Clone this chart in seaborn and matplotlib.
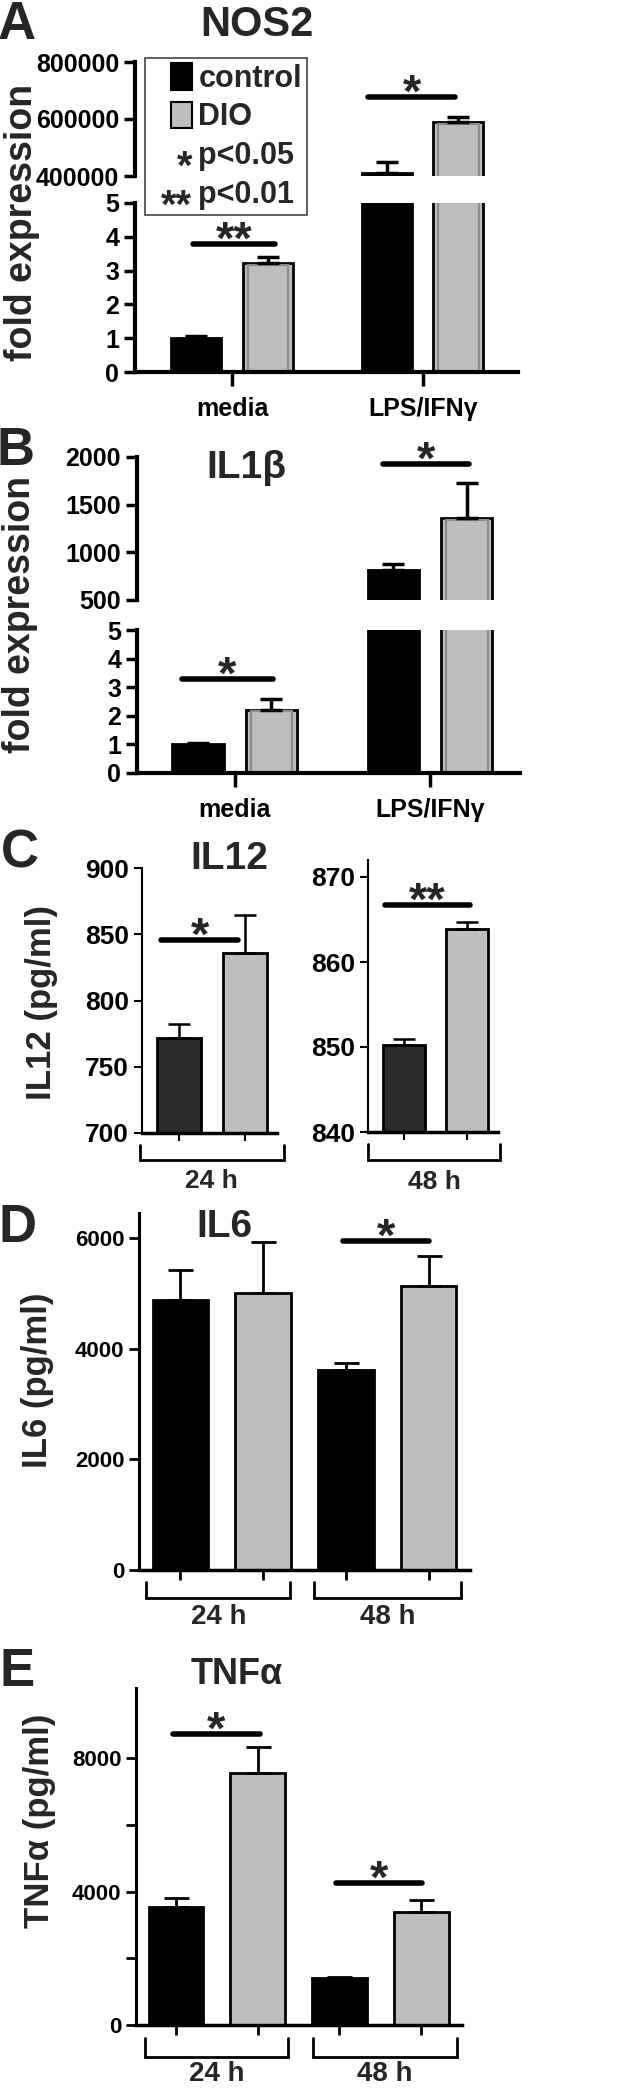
import numpy as np
import pandas as pd
import matplotlib
matplotlib.use('Agg')
import matplotlib.pyplot as plt
import seaborn as sns
from matplotlib.patches import Patch, Rectangle
from matplotlib.legend_handler import HandlerBase
from matplotlib.text import Text

W, H = 638, 2090

# ---------------- data ----------------
groups = ['control', 'DIO']
treatments = ['media', 'LPS/IFNγ']
time_points = ['24 h', '48 h']

nos2_control = [1.0, 412000]
nos2_control_sem = [0.07, 38000]
nos2_dio = [3.22, 590000]
nos2_dio_sem = [0.18, 17000]
nos2_low_ticks = [0, 1, 2, 3, 4, 5]
nos2_high_ticks = [400000, 600000, 800000]

il1b_control = [1.0, 812]
il1b_control_sem = [0.05, 70]
il1b_dio = [2.2, 1360]
il1b_dio_sem = [0.4, 365]
il1b_low_ticks = [0, 1, 2, 3, 4, 5]
il1b_high_ticks = [500, 1000, 1500, 2000]

il12_24h = [772, 836]
il12_24h_sem = [10, 28.5]
il12_48h = [850.2, 863.9]
il12_48h_sem = [0.8, 0.8]
il12_24h_ticks = [700, 750, 800, 850, 900]
il12_48h_ticks = [840, 850, 860, 870]

il6_control = [4870, 3610]
il6_control_sem = [550, 130]
il6_dio = [5000, 5130]
il6_dio_sem = [920, 540]
il6_ticks = [0, 2000, 4000, 6000]

tnfa_control = [3535, 1400]
tnfa_control_sem = [265, 50]
tnfa_dio = [7550, 3385]
tnfa_dio_sem = [780, 360]
tnfa_ticks = [0, 2000, 4000, 6000, 8000]
tnfa_labels = ['0', '', '4000', '', '8000']

GRAY = '#bebebe'
pal = {'control': 'black', 'DIO': GRAY}
pal_c = {'control': '#2b2b2b', 'DIO': GRAY}

sns.set_style('ticks')
plt.rcParams.update({
    'font.family': ['Liberation Sans', 'DejaVu Sans'],
    'font.weight': 'bold',
    'axes.edgecolor': 'black',
    'xtick.color': 'black', 'ytick.color': 'black',
    'axes.linewidth': 2.0,
    'xtick.major.width': 2.0, 'ytick.major.width': 2.0,
    'xtick.major.size': 7, 'ytick.major.size': 7,
})
NARROW = ['Liberation Sans Narrow', 'Liberation Sans', 'DejaVu Sans']

fig = plt.figure(figsize=(W / 100, H / 100), dpi=100)


def px_axes(left, top, right, bottom):
    return fig.add_axes([left / W, 1 - bottom / H, (right - left) / W, (bottom - top) / H])


def yfrac(ax, y_px):
    pos = ax.get_position()
    return ((1 - y_px / H) - pos.y0) / pos.height


def frame(cats, control, dio, control_sem, dio_sem):
    return pd.DataFrame({
        'cat': list(cats) * 2,
        'group': ['control'] * len(cats) + ['DIO'] * len(cats),
        'value': list(control) + list(dio),
        'sem': list(control_sem) + list(dio_sem),
    })


def bars(ax, df, x, order, palette, width, gap=0, lw=2.0, err_lw=2.0, cap=8, dodge='auto',
         inner=False):
    sns.barplot(data=df, x=x, y='value', hue='group', order=order, hue_order=groups,
                palette=palette, width=width, gap=gap, dodge=dodge, edgecolor='black',
                linewidth=lw, errorbar=None, legend=False, saturation=1, ax=ax)
    for bar in list(ax.patches):
        h = bar.get_height()
        s = df.loc[np.isclose(df['value'], h), 'sem'].iloc[0]
        ax.errorbar(bar.get_x() + bar.get_width() / 2, h, yerr=[[0], [s]], fmt='none',
                    ecolor='black', elinewidth=err_lw, capsize=cap, capthick=err_lw, zorder=3)
        # grey inner rim of the DIO bars (GraphPad style)
        if inner and bar.get_facecolor()[0] > 0.5:
            ax.add_patch(Rectangle((bar.get_x() + 0.025, 0), bar.get_width() - 0.05, h * 0.985,
                                   facecolor='none', edgecolor='#8c8c8c', lw=1.6, zorder=2.5))
    ax.set_xlabel('')
    ax.set_ylabel('')


def sig(ax, x0, x1, y, stars, dy=-7, size=34):
    ax.plot([x0, x1], [y, y], color='black', lw=4, solid_capstyle='round', zorder=4)
    ax.annotate(stars, xy=((x0 + x1) / 2, y), xytext=(0, dy), textcoords='offset points',
                ha='center', va='baseline', fontsize=size, fontweight='bold')


def bracket(ax, x0, x1, top_px, bot_px, label, label_px, size=19, lw=2.0):
    tr = ax.get_xaxis_transform()
    yt, yb = yfrac(ax, top_px), yfrac(ax, bot_px)
    ax.plot([x0, x0, x1, x1], [yt, yb, yb, yt], transform=tr, clip_on=False,
            color='black', lw=lw, solid_joinstyle='miter')
    ax.text((x0 + x1) / 2, yfrac(ax, label_px), label, transform=tr, ha='center',
            va='center', fontsize=size, fontweight='bold')


def broken_pair(top_box, bot_box, df, high_ticks, low_ticks, xlim, tick_size):
    ax_hi = px_axes(*top_box)
    ax_lo = px_axes(*bot_box)
    for ax in (ax_hi, ax_lo):
        bars(ax, df, 'cat', treatments, pal, width=0.75, gap=0.3, lw=2.0, err_lw=2.5, cap=8,
             inner=True)
        ax.set_xlim(*xlim)
        ax.tick_params(axis='both', labelsize=tick_size, width=2.5, length=8)
        for s in ('top', 'right'):
            ax.spines[s].set_visible(False)
        ax.spines['left'].set_linewidth(3)
        ax.spines['bottom'].set_linewidth(3)
    ax_hi.set_ylim(high_ticks[0], high_ticks[-1])
    ax_hi.set_yticks(high_ticks, labels=[str(t) for t in high_ticks])
    ax_hi.spines['bottom'].set_visible(False)
    ax_hi.tick_params(axis='x', bottom=False, labelbottom=False)
    ax_lo.set_ylim(low_ticks[0], low_ticks[-1])
    ax_lo.set_yticks(low_ticks, labels=[str(t) for t in low_ticks])
    ax_lo.tick_params(axis='x', length=10, pad=8, labelsize=18)
    return ax_hi, ax_lo


# ---------------- legend helpers ----------------
class Stars:
    def __init__(self, text):
        self.text = text


class StarHandler(HandlerBase):
    def create_artists(self, legend, orig, xd, yd, width, height, fontsize, trans):
        return [Text(width - xd, -yd - 0.38 * fontsize, orig.text, ha='right', va='baseline',
                     fontsize=fontsize * 1.3, fontweight='bold', family='Liberation Sans',
                     transform=trans)]


class SquareHandler(HandlerBase):
    def create_artists(self, legend, orig, xd, yd, width, height, fontsize, trans):
        w, h = 0.7 * fontsize, 0.88 * fontsize
        return [Rectangle((width - xd - w, -yd + (height - h) / 2), w, h,
                          facecolor=orig.get_facecolor(), edgecolor='black', lw=1.5,
                          transform=trans)]


# ---------------- A: NOS2 ----------------
df_a = frame(treatments, nos2_control, nos2_dio, nos2_control_sem, nos2_dio_sem)
a_hi, a_lo = broken_pair((135, 62, 518, 176), (135, 203, 518, 372), df_a,
                         nos2_high_ticks, nos2_low_ticks, (-0.51, 1.5), 18)
sig(a_lo, -0.205, 0.226, 3.8, '**')
sig(a_hi, 0.714, 1.17, 677000, '*')

handles = [Patch(facecolor=pal['control']), Patch(facecolor=pal['DIO']),
           Stars('*'), Stars('**')]
labels = ['control', 'DIO', 'p<0.05', 'p<0.01']
leg = fig.legend(handles, labels, loc='upper left', bbox_to_anchor=(145 / W, 1 - 58 / H),
                 borderaxespad=0, frameon=True, fancybox=False, framealpha=1,
                 edgecolor='#444444', borderpad=0.15, labelspacing=0.25,
                 handlelength=1.4, handleheight=1.0, handletextpad=0.2,
                 prop={'family': NARROW, 'weight': 'bold', 'size': 22},
                 handler_map={Patch: SquareHandler(), Stars: StarHandler()})
leg.get_frame().set_linewidth(1.2)

# ---------------- B: IL1beta ----------------
df_b = frame(treatments, il1b_control, il1b_dio, il1b_control_sem, il1b_dio_sem)
b_hi, b_lo = broken_pair((137, 457, 520, 600), (137, 630, 520, 773), df_b,
                         il1b_high_ticks, il1b_low_ticks, (-0.50, 1.46), 18)
sig(b_lo, -0.27, 0.195, 3.28, '*')
sig(b_hi, 0.76, 1.2, 1926, '*')

# ---------------- C: IL12 ----------------
c_axes = []
for box, vals, sems, ticks, xlim, top, brk in [
        ((142, 868, 277, 1133), il12_24h, il12_24h_sem, il12_24h_ticks, (-0.56, 1.48), 900, (-0.59, 1.58)),
        ((368, 860, 498, 1132), il12_48h, il12_48h_sem, il12_48h_ticks, (-0.57, 1.49), 872, (-0.57, 1.52))]:
    ax = px_axes(*box)
    df_c = pd.DataFrame({'cat': groups, 'group': groups, 'value': vals, 'sem': sems})
    bars(ax, df_c, 'cat', groups, pal_c, width=0.67, lw=2.0, err_lw=1.8, cap=8)
    ax.set_xlim(*xlim)
    ax.set_ylim(ticks[0], top)
    ax.set_yticks(ticks, labels=[str(t) for t in ticks])
    ax.set_xticks([0, 1], labels=['', ''])
    ax.tick_params(axis='both', labelsize=19, width=1.5, length=6)
    for s in ('top', 'right'):
        ax.spines[s].set_visible(False)
    ax.spines['left'].set_linewidth(1.5)
    ax.spines['bottom'].set_linewidth(2.5)
    c_axes.append((ax, brk))

bracket(c_axes[0][0], *c_axes[0][1], 1145, 1160, '24 h', 1181, size=19)
bracket(c_axes[1][0], *c_axes[1][1], 1144, 1160, '48 h', 1182, size=19)
sig(c_axes[0][0], -0.27, 0.89, 846, '*')
sig(c_axes[1][0], -0.30, 1.05, 866.7, '**')

# ---------------- D: IL6 and E: TNFalpha ----------------
bar_order = [f'{t} {g}' for t in time_points for g in groups]


def time_frame(control, dio, control_sem, dio_sem):
    rows = []
    for i, t in enumerate(time_points):
        rows.append((f'{t} control', 'control', control[i], control_sem[i]))
        rows.append((f'{t} DIO', 'DIO', dio[i], dio_sem[i]))
    return pd.DataFrame(rows, columns=['cat', 'group', 'value', 'sem'])


def time_panel(box, df, xlim, ylim, ticks, labels):
    ax = px_axes(*box)
    bars(ax, df, 'cat', bar_order, pal, width=0.67, lw=2.0, err_lw=2.0, cap=9, dodge=False)
    ax.set_xlim(*xlim)
    ax.set_ylim(*ylim)
    ax.set_yticks(ticks, labels=labels)
    ax.set_xticks(range(len(bar_order)), labels=[''] * len(bar_order))
    ax.tick_params(axis='both', labelsize=16, width=2.0, length=7)
    for s in ('top', 'right'):
        ax.spines[s].set_visible(False)
    ax.spines['left'].set_linewidth(2.2)
    ax.spines['bottom'].set_linewidth(2.5)
    return ax


ax_d = time_panel((139, 1213, 470, 1570), time_frame(il6_control, il6_dio, il6_control_sem, il6_dio_sem),
                  (-0.5, 3.5), (0, 6450), il6_ticks, [str(t) for t in il6_ticks])
bracket(ax_d, -0.41, 1.33, 1582, 1598, '24 h', 1617, size=20)
bracket(ax_d, 1.62, 3.39, 1582, 1598, '48 h', 1617, size=20)
sig(ax_d, 1.96, 3.0, 5940, '*')

ax_e = time_panel((136, 1688, 462, 2025), time_frame(tnfa_control, tnfa_dio, tnfa_control_sem, tnfa_dio_sem),
                  (-0.49, 3.5), (0, 10100), tnfa_ticks, tnfa_labels)
bracket(ax_e, -0.38, 1.37, 2038, 2057, '24 h', 2074, size=20)
bracket(ax_e, 1.68, 3.44, 2038, 2057, '48 h', 2074, size=20)
sig(ax_e, -0.04, 1.03, 8720, '*')
sig(ax_e, 1.96, 3.01, 4250, '*')

# ---------------- panel letters, titles, y labels ----------------
for letter, x, y in [('A', 17, 25), ('B', 15, 451), ('C', 20, 854), ('D', 18, 1228), ('E', 17, 1672)]:
    fig.text(x / W, 1 - y / H, letter, ha='center', va='center', fontsize=38,
             fontweight='bold', family=NARROW)

for title, x, y, size in [('NOS2', 257, 25, 30), ('IL1β', 246, 468, 28), ('IL12', 229, 859, 28),
                          ('IL6', 224, 1227, 28), ('TNFα', 237, 1675, 26)]:
    fig.text(x / W, 1 - y / H, title, ha='center', va='center', fontsize=size,
             fontweight='bold', family=NARROW)

for label, x, y, size in [('fold expression', 22, 222, 27), ('fold expression', 20, 614, 27),
                          ('IL12 (pg/ml)', 42, 1002, 25), ('IL6 (pg/ml)', 38, 1380, 25),
                          ('TNFα (pg/ml)', 40, 1821, 25)]:
    fig.text(x / W, 1 - y / H, label, ha='center', va='center', rotation=90,
             fontsize=size, fontweight='bold')

fig.savefig('out.png', dpi=100)
